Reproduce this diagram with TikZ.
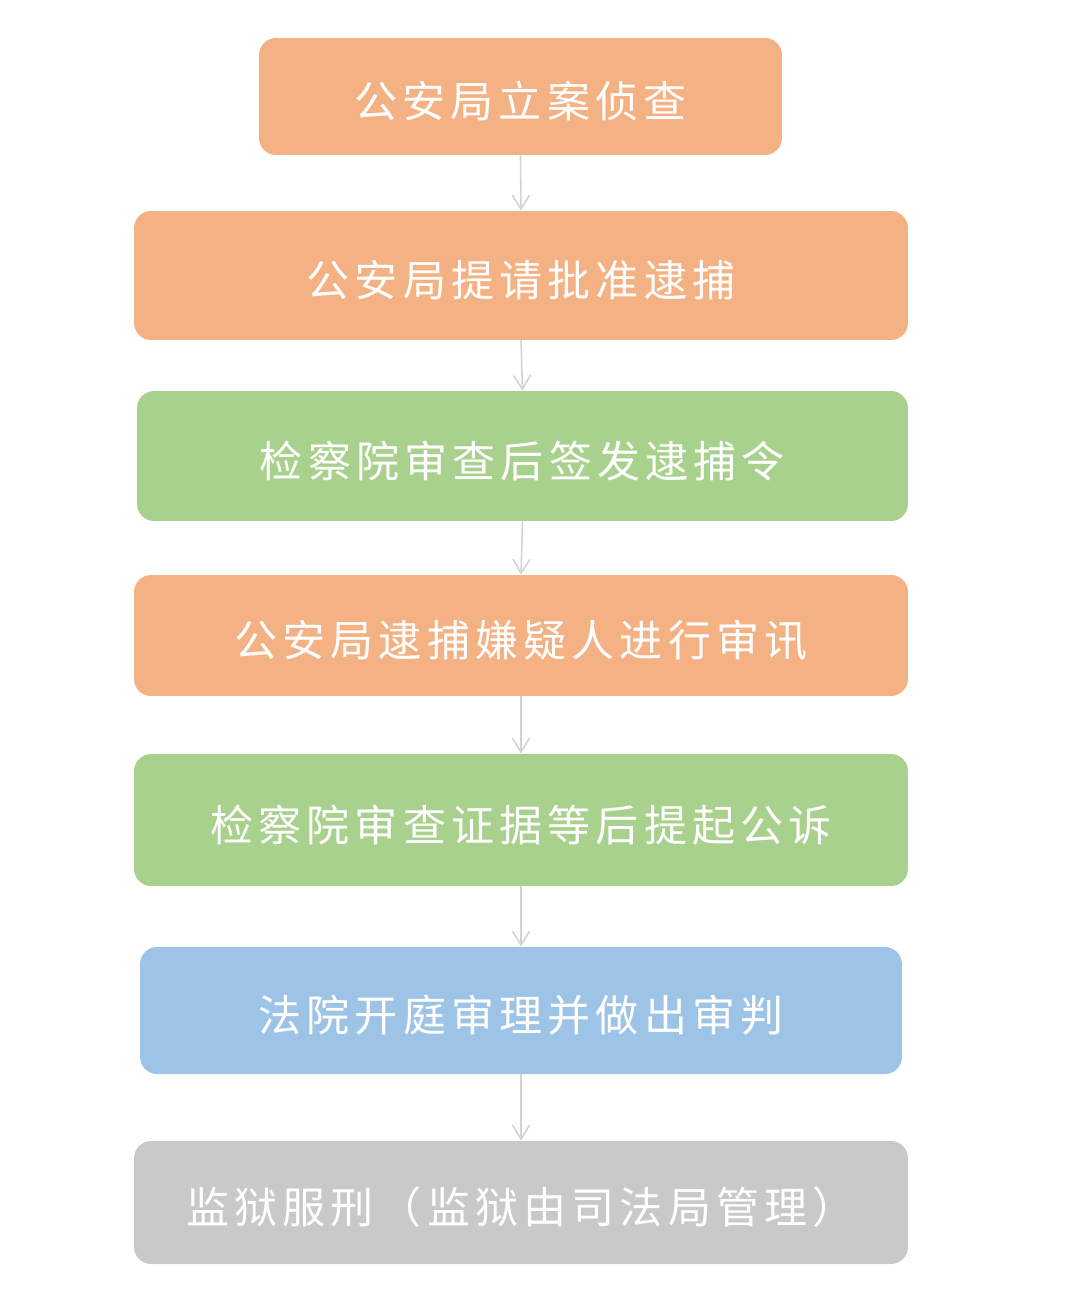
\documentclass[tikz,border=0pt]{standalone}
\usepackage{fontspec}
\usepackage{tikz}
\usetikzlibrary{arrows.meta}

\newfontfamily\cjk[LetterSpace=12]{Noto Sans CJK SC}

\definecolor{stepOrange}{HTML}{F4B183}
\definecolor{stepGreen}{HTML}{A9D18E}
\definecolor{stepBlue}{HTML}{9DC3E6}
\definecolor{stepGray}{HTML}{C9C9C9}
\definecolor{linkGray}{HTML}{D3D3D3}

\tikzset{
    stepbox/.style={rounded corners=0.34cm, inner sep=0pt, text=white,
        text height=0.85cm, text depth=0pt,
        font=\cjk\fontsize{24.5}{30}\selectfont},
    link/.style={draw=linkGray, line width=0.9pt,
        -{Straight Barb[length=0.28cm, width=0.34cm, line width=0.9pt]}}
}

\begin{document}
\begin{tikzpicture}[x=0.02cm, y=-0.02cm]

        \useasboundingbox (0, 0) rectangle (1084, 1316);

        \node[stepbox, fill=stepOrange, minimum width=10.46cm, minimum height=2.34cm]
            (lian) at (520.5, 96.5) {公安局立案侦查};
        \node[stepbox, fill=stepOrange, minimum width=15.48cm, minimum height=2.58cm]
            (tiqing) at (521, 275.5) {公安局提请批准逮捕};
        \node[stepbox, fill=stepGreen, minimum width=15.42cm, minimum height=2.6cm]
            (qianfa) at (522.5, 456) {检察院审查后签发逮捕令};
        \node[stepbox, fill=stepOrange, minimum width=15.48cm, minimum height=2.42cm]
            (daibu) at (521, 635.5) {公安局逮捕嫌疑人进行审讯};
        \node[stepbox, fill=stepGreen, minimum width=15.48cm, minimum height=2.64cm]
            (gongsu) at (521, 820) {检察院审查证据等后提起公诉};
        \node[stepbox, fill=stepBlue, minimum width=15.24cm, minimum height=2.54cm]
            (shenpan) at (521, 1010.5) {法院开庭审理并做出审判};
        \node[stepbox, fill=stepGray, minimum width=15.48cm, minimum height=2.46cm]
            (fuxing) at (521, 1202.5) {监狱服刑（监狱由司法局管理）};

        \foreach \a/\b in {lian/tiqing, tiqing/qianfa, qianfa/daibu,
                daibu/gongsu, gongsu/shenpan, shenpan/fuxing}
            \draw[link] (\a.south) -- (\b.north);
        ;
    \end{tikzpicture}
\end{document}
